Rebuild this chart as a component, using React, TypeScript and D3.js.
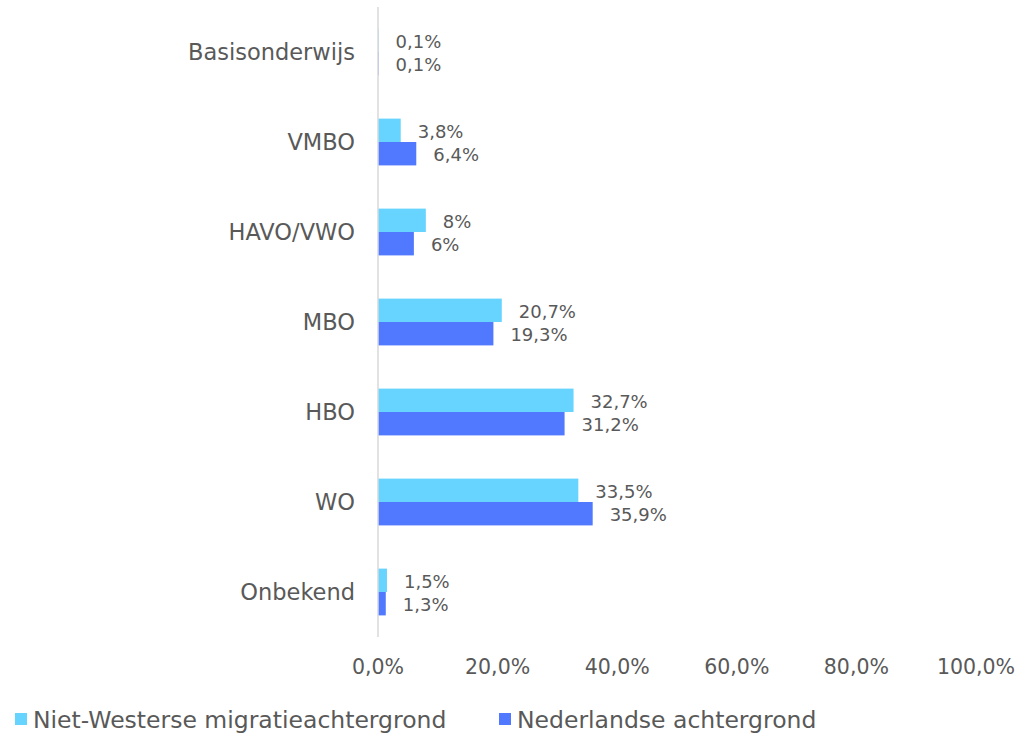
import React from "react";
import * as d3 from "d3";

const categories = ["Basisonderwijs", "VMBO", "HAVO/VWO", "MBO", "HBO", "WO", "Onbekend"];
const seriesNames = ["Niet-Westerse migratieachtergrond", "Nederlandse achtergrond"];
const nietWesters = [0.1, 3.8, 8, 20.7, 32.7, 33.5, 1.5];
const nederlands = [0.1, 6.4, 6, 19.3, 31.2, 35.9, 1.3];
const labelsNietWesters = ["0,1%", "3,8%", "8%", "20,7%", "32,7%", "33,5%", "1,5%"];
const labelsNederlands = ["0,1%", "6,4%", "6%", "19,3%", "31,2%", "35,9%", "1,3%"];
const tickValues = [0, 20, 40, 60, 80, 100];
const colors = ["#66D4FF", "#5179FF"];

const W = 1029;
const H = 737;
const FONT = "'Century Gothic', 'DejaVu Sans', sans-serif";
const TXT = "#595959";

export default function App() {
  const x = d3.scaleLinear().domain([0, 100]).range([378, 976]);
  const y = d3.scaleBand<string>().domain(categories).range([7, 637]).paddingInner(0.48).paddingOuter(0.24);
  const bh = y.bandwidth() / 2;
  const fmt = (v: number) => d3.format(".1f")(v).replace(".", ",") + "%";
  const series = [
    { vals: nietWesters, labels: labelsNietWesters },
    { vals: nederlands, labels: labelsNederlands },
  ];
  return (
    <svg width={W} height={H} style={{ position: "absolute", left: 0, top: 0, background: "#fff" }} fontFamily={FONT}>
      {categories.map((c, i) => (
        <g key={c}>
          {series.map((s, k) => {
            const yy = (y(c) as number) + k * bh;
            return (
              <g key={k}>
                <rect x={x(0)} y={yy} width={x(s.vals[i]) - x(0)} height={bh} fill={colors[k]} />
                <text x={x(s.vals[i]) + 17} y={yy + bh / 2 + 1} dominantBaseline="central" fontSize={18} fill={TXT}>
                  {s.labels[i]}
                </text>
              </g>
            );
          })}
          <text x={355} y={(y(c) as number) + y.bandwidth() / 2} textAnchor="end" dominantBaseline="central" fontSize={22.5} fill={TXT}>
            {c}
          </text>
        </g>
      ))}
      <line x1={x(0)} x2={x(0)} y1={7} y2={637} stroke="#D9D9D9" strokeWidth={1.5} />
      {tickValues.map((t) => (
        <text key={t} x={x(t)} y={667} textAnchor="middle" dominantBaseline="central" fontSize={20.5} fill={TXT}>
          {fmt(t)}
        </text>
      ))}
      <g>
        <rect x={15} y={713} width={12} height={12} fill={colors[0]} />
        <text x={33} y={720} dominantBaseline="central" fontSize={23.5} fill={TXT}>{seriesNames[0]}</text>
        <rect x={499} y={713} width={12} height={12} fill={colors[1]} />
        <text x={517} y={720} dominantBaseline="central" fontSize={23.5} fill={TXT}>{seriesNames[1]}</text>
      </g>
    </svg>
  );
}
